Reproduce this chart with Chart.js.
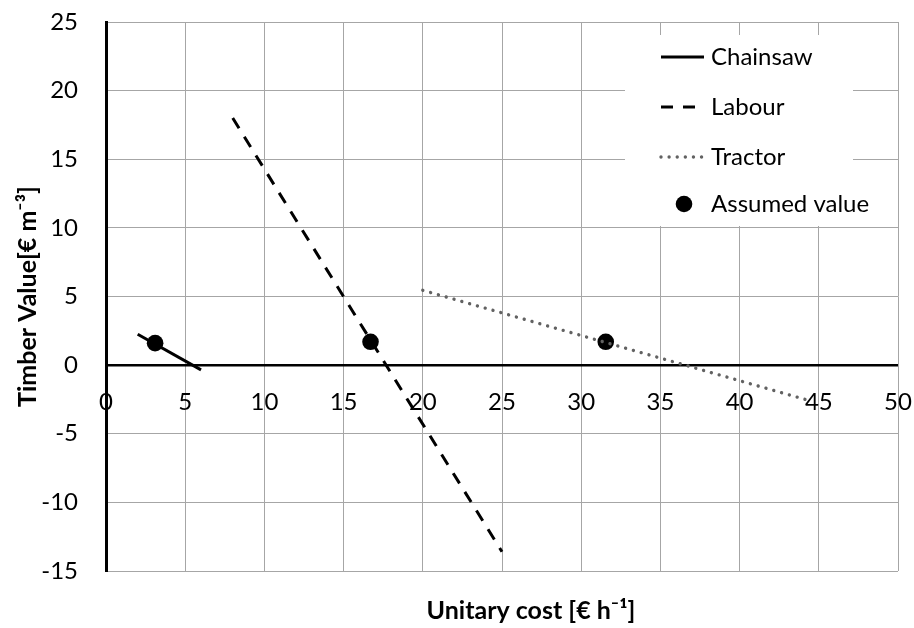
<!DOCTYPE html>
<html><head><meta charset="utf-8">
<script src="https://cdn.jsdelivr.net/npm/chart.js@4.4.1/dist/chart.umd.min.js"></script>
<style>html,body{margin:0;padding:0;background:#fff;}#wrap{width:914px;height:628px;position:relative;}</style>
</head><body><div id="wrap"><canvas id="c" width="914" height="628"></canvas></div>
<script>
// ---- data ----
const xTicks = [0, 5, 10, 15, 20, 25, 30, 35, 40, 45, 50];
const yTicks = [-15, -10, -5, 0, 5, 10, 15, 20, 25];
const chainsawX = [2, 6];
const chainsawY = [2.25, -0.35];
const labourX = [8, 25];
const labourY = [18, -13.6];
const tractorX = [20, 44.45];
const tractorY = [5.45, -2.6];
const assumedX = [3.1, 16.7, 31.55];
const assumedY = [1.6, 1.7, 1.7];
const seriesNames = ['Chainsaw', 'Labour', 'Tractor', 'Assumed value'];
const xTitle = 'Unitary cost [€ h⁻¹]';
const yTitle = 'Timber Value[€ m⁻³]';

const FONT = 'Lato, "Open Sans", "DejaVu Sans", sans-serif';
const pts = (xs, ys) => xs.map((x, i) => ({x: x, y: ys[i]}));
const GRID = '#a6a6a6';

const legendPlugin = {
  id: 'insideLegend',
  afterDraw(chart) {
    const ctx = chart.ctx;
    ctx.save();
    ctx.fillStyle = '#fff';
    ctx.fillRect(625, 35, 228, 191);
    const rows = [57, 107, 157, 204];
    chart.data.datasets.forEach((ds, i) => {
      const y = rows[i];
      ctx.save();
      if (ds.showLine) {
        ctx.strokeStyle = ds.borderColor;
        ctx.lineWidth = ds.borderWidth;
        ctx.lineCap = ds.borderCapStyle || 'butt';
        ctx.setLineDash(ds.borderDash || []);
        ctx.beginPath();
        ctx.moveTo(661, y);
        ctx.lineTo(704, y);
        ctx.stroke();
      } else {
        ctx.fillStyle = ds.pointBackgroundColor;
        ctx.beginPath();
        ctx.arc(684, y, ds.pointRadius, 0, Math.PI * 2);
        ctx.fill();
      }
      ctx.restore();
      ctx.fillStyle = '#000';
      ctx.font = '24px ' + FONT;
      ctx.textBaseline = 'middle';
      ctx.textAlign = 'left';
      ctx.fillText(ds.label, 711, y);
    });
    // x axis title
    ctx.font = 'bold 25px ' + FONT;
    ctx.textAlign = 'center';
    ctx.textBaseline = 'middle';
    ctx.fillText(xTitle, 531, 611);
    ctx.restore();
  }
};

const noPadX = s => { s.paddingLeft = 0; s.paddingRight = 0; };

new Chart(document.getElementById('c'), {
  type: 'scatter',
  data: {
    datasets: [
      { label: seriesNames[0], data: pts(chainsawX, chainsawY), showLine: true, borderColor: '#000', borderWidth: 3,
        pointRadius: 0, xAxisID: 'x', yAxisID: 'y' },
      { label: seriesNames[1], data: pts(labourX, labourY), showLine: true, borderColor: '#000', borderWidth: 3,
        borderDash: [12, 10], pointRadius: 0, xAxisID: 'x', yAxisID: 'y' },
      { label: seriesNames[2], data: pts(tractorX, tractorY), showLine: true, borderColor: '#626262', borderWidth: 3.4,
        borderDash: [0.01, 8.1], borderCapStyle: 'round', pointRadius: 0, xAxisID: 'x', yAxisID: 'y' },
      { label: seriesNames[3], data: pts(assumedX, assumedY), showLine: false, pointRadius: 8.3,
        pointBackgroundColor: '#000', pointBorderColor: '#000', pointBorderWidth: 0, xAxisID: 'x', yAxisID: 'y' }
    ]
  },
  options: {
    responsive: false,
    animation: false,
    layout: { padding: { left: 0, right: 16, top: 22, bottom: 0 } },
    plugins: { legend: { display: false }, tooltip: { enabled: false } },
    scales: {
      x: {
        type: 'linear', axis: 'x', position: 'bottom', min: 0, max: 50,
        afterBuildTicks: s => { s.ticks = xTicks.map(v => ({value: v})); },
        ticks: { display: false },
        grid: { color: c => c.tick && c.tick.value === 0 ? '#000' : GRID, lineWidth: 1, drawTicks: false },
        border: { display: false },
        afterFit: s => { s.height = 57; noPadX(s); }
      },
      xLabels: {
        type: 'linear', axis: 'x', position: { y: 0 }, min: 0, max: 50,
        afterBuildTicks: s => { s.ticks = xTicks.map(v => ({value: v})); },
        ticks: { color: '#000', padding: 23, font: { family: FONT, size: 24 }, maxRotation: 0 },
        grid: { display: false, drawTicks: false },
        border: { display: false },
        afterFit: s => { s.height = 0; noPadX(s); }
      },
      y: {
        type: 'linear', position: 'left', min: -15, max: 25,
        afterBuildTicks: s => { s.ticks = yTicks.map(v => ({value: v})); },
        ticks: { color: '#000', padding: 28, font: { family: FONT, size: 24 } },
        grid: { color: c => c.tick && c.tick.value === 0 ? '#000' : GRID,
                lineWidth: c => c.tick && c.tick.value === 0 ? 2.6 : 1, drawTicks: false },
        border: { color: '#000', width: 3 },
        title: { display: true, text: yTitle, color: '#000', font: { family: FONT, size: 25, weight: 'bold' },
                 padding: { top: 13, bottom: 0 } },
        afterFit: s => { s.width = 106; s.paddingTop = 0; s.paddingBottom = 0; }
      }
    }
  },
  plugins: [legendPlugin]
});
</script></body></html>
